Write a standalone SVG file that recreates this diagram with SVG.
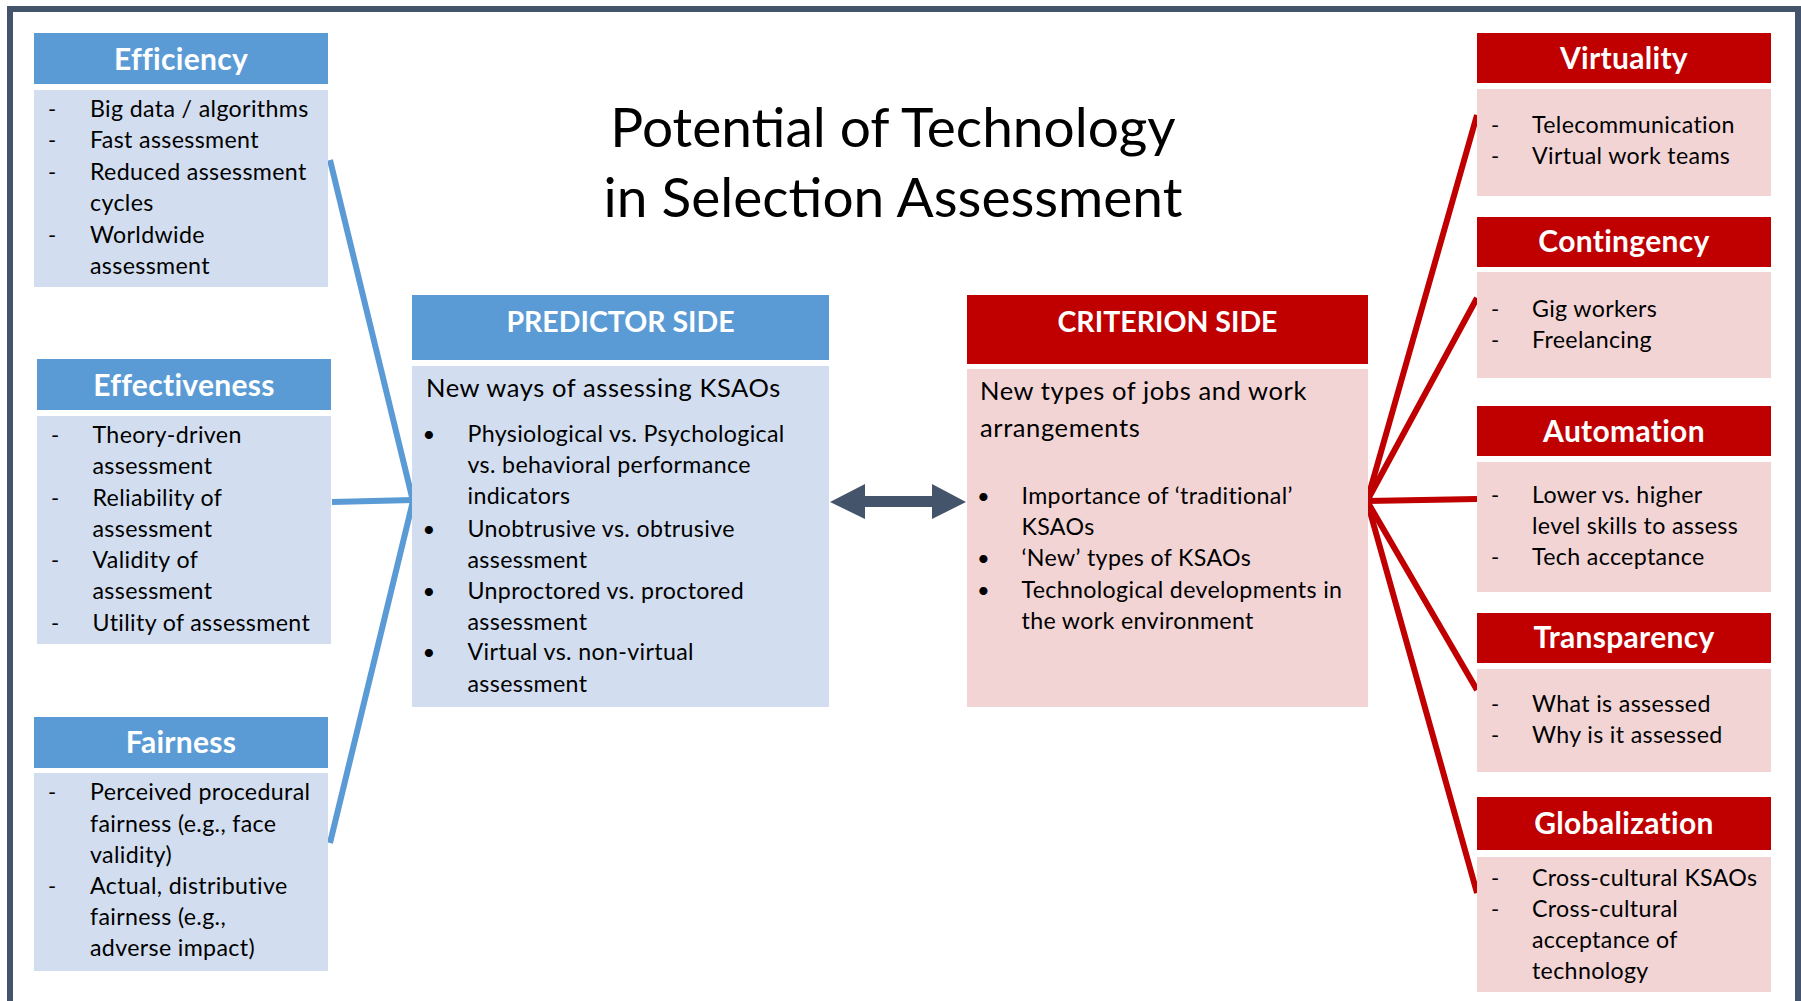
<svg xmlns="http://www.w3.org/2000/svg" width="1801" height="1001" viewBox="0 0 1801 1001">
  <style>
    text { font-family: Lato, "Open Sans", "Liberation Sans", sans-serif; }
    .title { font-size: 55px; fill: #000; text-anchor: middle; }
    .head { font-size: 30px; letter-spacing: 0.3px; font-weight: bold; fill: #fff; text-anchor: middle; }
    .caps { font-size: 28.5px; letter-spacing: 0; }
    .item { font-size: 23.2px; letter-spacing: 0.35px; fill: #000; }
    .lead { font-size: 25.5px; letter-spacing: 0.6px; fill: #000; }
    .mark { font-size: 22px; fill: #000; }
    .bhead { fill: #5B9BD5; }
    .bbody { fill: #D2DEEF; }
    .rhead { fill: #C00000; }
    .rbody { fill: #F2D4D5; }
    .blue { stroke: #5B9BD5; stroke-width: 6; fill: none; stroke-linejoin: miter; stroke-miterlimit: 20; }
    .red { stroke: #C00000; stroke-width: 6; fill: none; stroke-linejoin: miter; stroke-miterlimit: 20; }
  </style>

  <!-- slide frame -->
  <rect x="0" y="0" width="1801" height="1001" fill="#fff"/>
  <rect x="10" y="9" width="1788" height="1010" fill="none" stroke="#44546A" stroke-width="6"/>

  <!-- heading -->
  <g id="title">
    <text class="title" x="893" y="147">Potential of Technology</text>
    <text class="title" x="893" y="217">in Selection Assessment</text>
  </g>

  <!-- connectors -->
  <g id="connectors">
    <path class="blue" d="M330,160 L413,501 L330,843"/>
    <path class="blue" d="M332,502 L413,500"/>
    <path class="red" d="M1477,115 L1367,501 L1477,893"/>
    <path class="red" d="M1477,298 L1367,501 L1477,690"/>
    <path class="red" d="M1367,501 L1477,499"/>
    <!-- double-headed arrow between predictor and criterion -->
    <polygon fill="#44546A" points="830,502 865,484 865,496 932,496 932,484 966,502 932,519 932,507 865,507 865,519"/>
  </g>

  <!-- left column -->
  <g id="efficiency">
    <rect class="bhead" x="34" y="33" width="294" height="51"/>
    <rect class="bbody" x="34" y="90" width="294" height="197"/>
    <text class="head" x="181" y="70">Efficiency</text>
    <text class="mark" x="48" y="117">-</text><text class="item" x="90" y="117">Big data / algorithms</text>
    <text class="mark" x="48" y="148">-</text><text class="item" x="90" y="148">Fast assessment</text>
    <text class="mark" x="48" y="180">-</text><text class="item" x="90" y="180">Reduced assessment</text>
    <text class="item" x="90" y="211">cycles</text>
    <text class="mark" x="48" y="243">-</text><text class="item" x="90" y="243">Worldwide</text>
    <text class="item" x="90" y="274">assessment</text>
  </g>

  <g id="effectiveness">
    <rect class="bhead" x="37" y="359" width="294" height="51"/>
    <rect class="bbody" x="37" y="416" width="294" height="228"/>
    <text class="head" x="184" y="396">Effectiveness</text>
    <text class="mark" x="51" y="443">-</text><text class="item" x="92.5" y="443">Theory-driven</text>
    <text class="item" x="92.5" y="474">assessment</text>
    <text class="mark" x="51" y="505.5">-</text><text class="item" x="92.5" y="505.5">Reliability of</text>
    <text class="item" x="92.5" y="536.5">assessment</text>
    <text class="mark" x="51" y="568">-</text><text class="item" x="92.5" y="568">Validity of</text>
    <text class="item" x="92.5" y="599">assessment</text>
    <text class="mark" x="51" y="631">-</text><text class="item" x="92.5" y="631">Utility of assessment</text>
  </g>

  <g id="fairness">
    <rect class="bhead" x="34" y="717" width="294" height="51"/>
    <rect class="bbody" x="34" y="773" width="294" height="198"/>
    <text class="head" x="181" y="753">Fairness</text>
    <text class="mark" x="48" y="800">-</text><text class="item" x="90" y="800">Perceived procedural</text>
    <text class="item" x="90" y="831.5">fairness (e.g., face</text>
    <text class="item" x="90" y="862.5">validity)</text>
    <text class="mark" x="48" y="894">-</text><text class="item" x="90" y="894">Actual, distributive</text>
    <text class="item" x="90" y="925">fairness (e.g.,</text>
    <text class="item" x="90" y="956">adverse impact)</text>
  </g>

  <!-- centre blocks -->
  <g id="predictor-side">
    <rect class="bhead" x="412" y="295" width="417" height="65"/>
    <rect class="bbody" x="412" y="366" width="417" height="341"/>
    <text class="head caps" x="620.5" y="332">PREDICTOR SIDE</text>
    <text class="lead" x="426" y="396.5">New ways of assessing KSAOs</text>
    <text class="mark" x="429" y="442" text-anchor="middle">•</text><text class="item" x="467.5" y="442">Physiological vs. Psychological</text>
    <text class="item" x="467.5" y="473">vs. behavioral performance</text>
    <text class="item" x="467.5" y="504">indicators</text>
    <text class="mark" x="429" y="536.5" text-anchor="middle">•</text><text class="item" x="467.5" y="536.5">Unobtrusive vs. obtrusive</text>
    <text class="item" x="467.5" y="567.5">assessment</text>
    <text class="mark" x="429" y="598.5" text-anchor="middle">•</text><text class="item" x="467.5" y="598.5">Unproctored vs. proctored</text>
    <text class="item" x="467.5" y="630">assessment</text>
    <text class="mark" x="429" y="660" text-anchor="middle">•</text><text class="item" x="467.5" y="660">Virtual vs. non-virtual</text>
    <text class="item" x="467.5" y="691.5">assessment</text>
  </g>

  <g id="criterion-side">
    <rect class="rhead" x="967" y="295" width="401" height="69"/>
    <rect class="rbody" x="967" y="369" width="401" height="338"/>
    <text class="head caps" x="1167.5" y="332">CRITERION SIDE</text>
    <text class="lead" x="980" y="400">New types of jobs and work</text>
    <text class="lead" x="980" y="436.5">arrangements</text>
    <text class="mark" x="983.5" y="504" text-anchor="middle">•</text><text class="item" x="1021.5" y="504">Importance of ‘traditional’</text>
    <text class="item" x="1021.5" y="535">KSAOs</text>
    <text class="mark" x="983.5" y="566" text-anchor="middle">•</text><text class="item" x="1021.5" y="566">‘New’ types of KSAOs</text>
    <text class="mark" x="983.5" y="597.5" text-anchor="middle">•</text><text class="item" x="1021.5" y="597.5">Technological developments in</text>
    <text class="item" x="1021.5" y="629">the work environment</text>
  </g>

  <!-- right column -->
  <g id="virtuality">
    <rect class="rhead" x="1477" y="33" width="294" height="50"/>
    <rect class="rbody" x="1477" y="89" width="294" height="107"/>
    <text class="head" x="1624" y="69">Virtuality</text>
    <text class="mark" x="1491" y="133">-</text><text class="item" x="1532" y="133">Telecommunication</text>
    <text class="mark" x="1491" y="164">-</text><text class="item" x="1532" y="164">Virtual work teams</text>
  </g>

  <g id="contingency">
    <rect class="rhead" x="1477" y="217" width="294" height="50"/>
    <rect class="rbody" x="1477" y="272" width="294" height="106"/>
    <text class="head" x="1624" y="252">Contingency</text>
    <text class="mark" x="1491" y="316.5">-</text><text class="item" x="1532" y="316.5">Gig workers</text>
    <text class="mark" x="1491" y="348">-</text><text class="item" x="1532" y="348">Freelancing</text>
  </g>

  <g id="automation">
    <rect class="rhead" x="1477" y="406" width="294" height="50"/>
    <rect class="rbody" x="1477" y="462" width="294" height="130"/>
    <text class="head" x="1624" y="442">Automation</text>
    <text class="mark" x="1491" y="502.5">-</text><text class="item" x="1532" y="502.5">Lower vs. higher</text>
    <text class="item" x="1532" y="534">level skills to assess</text>
    <text class="mark" x="1491" y="565">-</text><text class="item" x="1532" y="565">Tech acceptance</text>
  </g>

  <g id="transparency">
    <rect class="rhead" x="1477" y="613" width="294" height="50"/>
    <rect class="rbody" x="1477" y="669" width="294" height="103"/>
    <text class="head" x="1624" y="648">Transparency</text>
    <text class="mark" x="1491" y="712">-</text><text class="item" x="1532" y="712">What is assessed</text>
    <text class="mark" x="1491" y="743">-</text><text class="item" x="1532" y="743">Why is it assessed</text>
  </g>

  <g id="globalization">
    <rect class="rhead" x="1477" y="797" width="294" height="53"/>
    <rect class="rbody" x="1477" y="857" width="294" height="135"/>
    <text class="head" x="1624" y="834">Globalization</text>
    <text class="mark" x="1491" y="885.5">-</text><text class="item" x="1532" y="885.5">Cross-cultural KSAOs</text>
    <text class="mark" x="1491" y="917">-</text><text class="item" x="1532" y="917">Cross-cultural</text>
    <text class="item" x="1532" y="948">acceptance of</text>
    <text class="item" x="1532" y="979">technology</text>
  </g>
</svg>
